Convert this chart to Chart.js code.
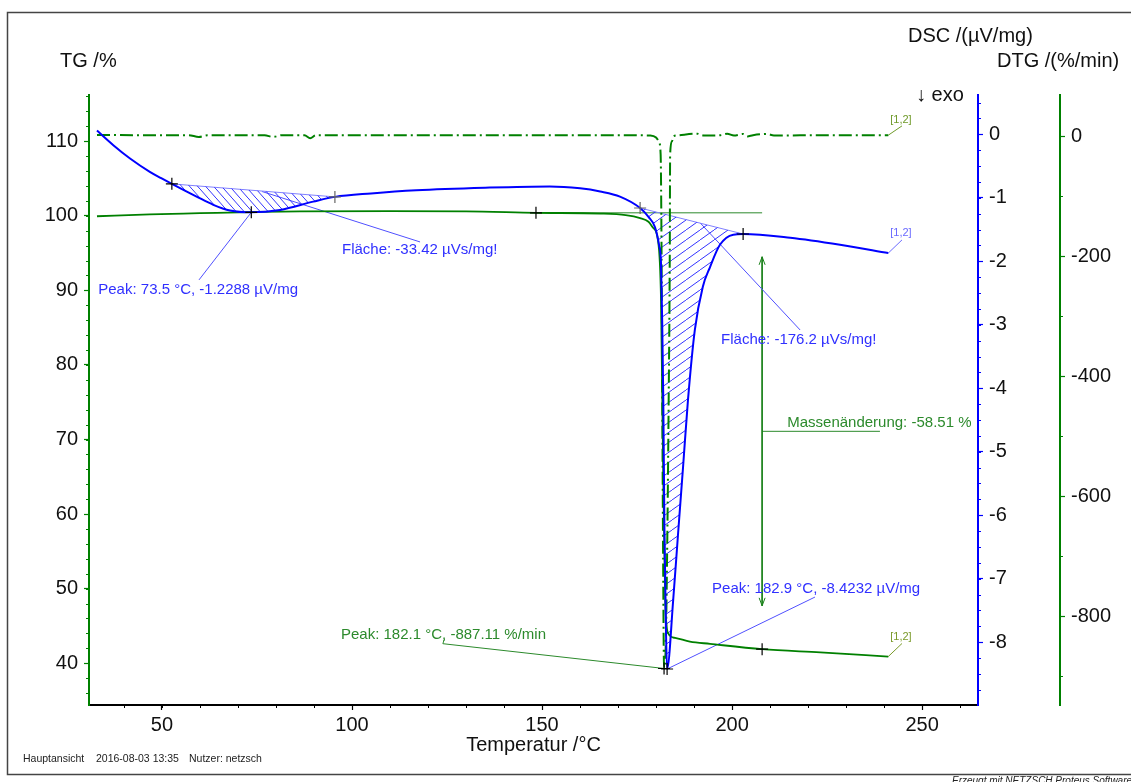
<!DOCTYPE html>
<html>
<head>
<meta charset="utf-8">
<script src="https://cdn.jsdelivr.net/npm/chart.js@4/dist/chart.umd.min.js"></script>
<style>
  html, body { margin: 0; padding: 0; background: #fff; }
  #wrap { width: 1131px; height: 782px; }
</style>
</head>
<body>
<div id="wrap"><canvas id="c" width="1131" height="782"></canvas></div>
<script>
// Temperatur /°C against signal, one [T, value] pair per row
const tgCurve = [
  [32.9, 99.94], [46.8, 100.2], [60, 100.35], [73.2, 100.5], [86.3, 100.6],
  [110, 100.62], [130, 100.6], [148.4, 100.4], [165.3, 100.3], [172, 100.1],
  [175.8, 99.7], [178, 99.2], [179.2, 98.4], [180.5, 96.7], [181.3, 88.7],
  [181.8, 68.6], [182.4, 48.4], [183.2, 44.0], [185, 43.4], [188.9, 42.9],
  [194.2, 42.6], [207.9, 41.89], [223.2, 41.45], [241.1, 40.9]
];

const dscCurve = [
  [32.9, 0.06], [37.2, -0.17], [41.6, -0.38], [46.8, -0.59], [49.8, -0.69], [52.6, -0.78],
  [59.1, -0.98], [63.5, -1.11], [67.9, -1.2], [73.5, -1.2288], [81.1, -1.19],
  [89.8, -1.06], [95.5, -0.985], [105, -0.93], [116.9, -0.88], [135, -0.84],
  [152, -0.82], [160, -0.85], [165.3, -0.9], [170.5, -0.98], [175.8, -1.16],
  [178, -1.3], [179.7, -1.46], [180.8, -1.75], [181.3, -2.03], [181.6, -2.92],
  [181.9, -4.19], [182.2, -6.23], [182.6, -7.81], [182.9, -8.4232],
  [184.5, -7.34], [185.8, -6.28], [187.1, -5.24], [188.4, -4.18], [190.2, -3.08],
  [192.3, -2.4], [194.2, -2.09], [196.8, -1.74], [200.3, -1.58], [202.9, -1.57],
  [215.3, -1.63], [228.4, -1.74], [241.1, -1.87]
];

const dtgCurve = [
  [32.9, 2.5], [45, 2], [57, 2], [59.7, -1], [62, 2], [77, 2], [79.2, -1],
  [81.5, 2], [87.5, 2], [89, -3], [90.5, 2], [110, 2], [130, 2], [150, 2],
  [170, 2], [178.5, 1.5], [180, -2], [180.8, -10], [181.2, -30], [181.4, -150],
  [181.6, -400], [181.85, -700], [182.1, -887.11], [182.5, -860], [182.9, -700],
  [183.3, -450], [183.6, -200], [183.7, -30], [184.2, -8], [184.6, 0],
  [185.5, 1.5], [190.8, 4.5], [192.5, 1.5], [197, 2], [198.7, 4.5], [200.5, 1.5],
  [202.9, 4], [204, 0], [205.5, 2], [209.2, 4], [211, 1.5], [225, 2], [241.1, 2]
];

// evaluation points
const dscPeaks = [[73.5, -1.2288], [182.9, -8.4232]];
const dscArea1 = [[52.6, -0.78], [95.5, -0.985]];
const dscArea2 = [[175.8, -1.16], [202.9, -1.57]];
const dtgPeak = [[182.1, -887.11]];
const massStep = [[148.4, 100.4], [207.9, 41.89]];

// axis ranges and tick labels
const tempRange = [30.8, 264.7];
const tgRange = [34.4, 116.2];
const dscRange = [-8.99, 0.62];
const dtgRange = [-948, 69];
const tempTicks = [50, 100, 150, 200, 250];
const tgTicks = [40, 50, 60, 70, 80, 90, 100, 110];
const dscTicks = [-8, -7, -6, -5, -4, -3, -2, -1, 0];
const dtgTicks = [-800, -600, -400, -200, 0];
const minorSteps = { x: 10, yTG: 2, yDSC: 0.25, yDTG: 100 };

const FONT = "'Liberation Sans', Arial, Helvetica, sans-serif";
const GREEN = '#008000';
const BLUE = '#0000ff';
const axisColors = { x: '#000', yTG: GREEN, yDSC: BLUE, yDTG: GREEN };

const pts = arr => arr.map(([x, y]) => ({ x, y }));
const between = (arr, a, b) => pts(arr.filter(([x]) => x >= a && x <= b));

const canvas = document.getElementById('c');
const ctx0 = canvas.getContext('2d');

function hatch(w, h, rising) {
  const tile = document.createElement('canvas');
  tile.width = w; tile.height = h;
  const g = tile.getContext('2d');
  g.strokeStyle = '#3434ff';
  g.lineWidth = 1;
  g.beginPath();
  if (rising) {
    g.moveTo(-w, 2 * h); g.lineTo(2 * w, -h);
  } else {
    g.moveTo(-w, -h); g.lineTo(2 * w, 2 * h);
  }
  g.stroke();
  return ctx0.createPattern(tile, 'repeat');
}

const labels = [
  { axis: 'yDSC', x: 33.24, y: -2.451, text: 'Peak: 73.5 °C, -1.2288 µV/mg', color: '#3030ff' },
  { axis: 'yDSC', x: 97.37, y: -1.821, text: 'Fläche: -33.42 µVs/mg!', color: '#3030ff' },
  { axis: 'yDSC', x: 197.1, y: -3.239, text: 'Fläche: -176.2 µVs/mg!', color: '#3030ff' },
  { axis: 'yDSC', x: 194.74, y: -7.164, text: 'Peak: 182.9 °C, -8.4232 µV/mg', color: '#3030ff' },
  { axis: 'yDTG', x: 97.1, y: -830.8, text: 'Peak: 182.1 °C, -887.11 %/min', color: '#2c8a2c' },
  { axis: 'yTG', x: 214.5, y: 72.18, text: 'Massenänderung: -58.51 %', color: '#2c8a2c' },
  { axis: 'yDTG', x: 241.6, y: 27, text: '[1,2]', color: '#6f9a2a', size: 11 },
  { axis: 'yDSC', x: 241.6, y: -1.553, text: '[1,2]', color: '#6a6aff', size: 11 },
  { axis: 'yTG', x: 241.6, y: 43.49, text: '[1,2]', color: '#7a9a2a', size: 11 }
];

const leader = (data, axis, color) => ({
  data: pts(data), yAxisID: axis, borderColor: color, borderWidth: 1,
  pointRadius: 0, tension: 0, fill: false
});

const crosses = (data, axis, colors) => ({
  data: pts(data), yAxisID: axis, showLine: false, pointStyle: 'cross',
  pointRadius: 6, pointBorderWidth: 1.2, pointBorderColor: colors
});

const datasets = [
  crosses(dscPeaks.concat(dscArea1, dscArea2), 'yDSC', ['#000', '#000', '#000', '#666', '#666', '#000']),
  crosses(massStep, 'yTG', ['#000', '#000']),
  crosses(dtgPeak, 'yDTG', ['#000']),
  { data: pts(dscCurve), yAxisID: 'yDSC', borderColor: BLUE, borderWidth: 2, cubicInterpolationMode: 'monotone' },
  { data: pts(tgCurve), yAxisID: 'yTG', borderColor: GREEN, borderWidth: 1.8, cubicInterpolationMode: 'monotone' },
  { data: pts(dtgCurve), yAxisID: 'yDTG', borderColor: GREEN, borderWidth: 2, borderDash: [13, 4, 2, 4], cubicInterpolationMode: 'monotone' },
  // hatched peak areas, filled down to their baselines
  { data: between(dscCurve, dscArea1[0][0], dscArea1[1][0]), yAxisID: 'yDSC', borderWidth: 0, borderColor: 'rgba(0,0,0,0)',
    backgroundColor: hatch(8, 9, false), fill: '+1', cubicInterpolationMode: 'monotone' },
  leader(dscArea1, 'yDSC', '#8080ff'),
  { data: between(dscCurve, dscArea2[0][0], dscArea2[1][0]), yAxisID: 'yDSC', borderWidth: 0, borderColor: 'rgba(0,0,0,0)',
    backgroundColor: hatch(14, 10, true), fill: '+1', cubicInterpolationMode: 'monotone' },
  leader(dscArea2, 'yDSC', '#8080ff'),
  // leader lines to the labels
  leader([[73.5, -1.2288], [59.74, -2.293]], 'yDSC', '#5050ff'),
  leader([[76.3, -0.9], [117.9, -1.695]], 'yDSC', '#5050ff'),
  leader([[191.6, -1.395], [217.9, -3.082]], 'yDSC', '#5050ff'),
  leader([[182.9, -8.4232], [221.8, -7.29]], 'yDSC', '#5050ff'),
  leader([[182.1, -887.11], [123.9, -845.8], [124.3, -838]], 'yDTG', '#2c8a2c'),
  leader([[148.4, 100.4], [207.9, 100.4]], 'yTG', '#2c8a2c'),
  leader([[207.9, 94.5], [207.9, 47.7]], 'yTG', '#1a801a'),
  leader([[207.9, 71.1], [238.9, 71.1]], 'yTG', '#2c8a2c'),
  leader([[241.1, 2], [244.7, 17.5]], 'yDTG', '#6f9a2a'),
  leader([[241.1, -1.87], [244.7, -1.663]], 'yDSC', '#6a6aff'),
  leader([[241.1, 40.9], [244.7, 42.65]], 'yTG', '#7a9a2a')
];

const decor = {
  id: 'decor',
  afterDraw(chart) {
    const ctx = chart.ctx;
    const s = chart.scales;
    ctx.save();

    // minor ticks on all four axes
    for (const id in minorSteps) {
      const sc = s[id];
      const step = minorSteps[id];
      ctx.strokeStyle = axisColors[id];
      ctx.lineWidth = 1;
      ctx.beginPath();
      const first = Math.ceil(sc.min / step);
      for (let i = first; i * step <= sc.max; i++) {
        const p = Math.round(sc.getPixelForValue(i * step)) + 0.5;
        if (id === 'x') { ctx.moveTo(p, sc.top); ctx.lineTo(p, sc.top + 3); }
        else if (sc.position === 'left') { ctx.moveTo(sc.right, p); ctx.lineTo(sc.right - 3, p); }
        else { ctx.moveTo(sc.left, p); ctx.lineTo(sc.left + 3, p); }
      }
      ctx.stroke();
    }

    // arrow heads of the mass change marker
    const ax = s.x.getPixelForValue(207.9);
    const aTop = s.yTG.getPixelForValue(94.5);
    const aBot = s.yTG.getPixelForValue(47.7);
    ctx.strokeStyle = '#1a801a';
    ctx.lineWidth = 1;
    ctx.beginPath();
    ctx.moveTo(ax - 3, aTop + 8); ctx.lineTo(ax, aTop); ctx.lineTo(ax + 3, aTop + 8);
    ctx.moveTo(ax - 3, aBot - 8); ctx.lineTo(ax, aBot); ctx.lineTo(ax + 3, aBot - 8);
    ctx.stroke();

    // evaluation labels
    ctx.textBaseline = 'middle';
    ctx.textAlign = 'left';
    for (const l of labels) {
      ctx.font = (l.size || 15) + 'px ' + FONT;
      ctx.fillStyle = l.color;
      ctx.fillText(l.text, s.x.getPixelForValue(l.x), s[l.axis].getPixelForValue(l.y));
    }

    // axis titles
    ctx.fillStyle = '#111';
    ctx.font = '20px ' + FONT;
    ctx.fillText('TG /%', 60, 61);
    ctx.fillText('DSC /(µV/mg)', 908, 36);
    ctx.fillText('DTG /(%/min)', 997, 61);
    ctx.fillText('↓ exo', 916, 95);
    ctx.textAlign = 'center';
    ctx.fillText('Temperatur /°C', (chart.chartArea.left + chart.chartArea.right) / 2, 745);

    // footer
    ctx.textAlign = 'left';
    ctx.font = '10.5px ' + FONT;
    ctx.fillStyle = '#222';
    ctx.fillText('Hauptansicht', 23, 759);
    ctx.fillText('2016-08-03 13:35', 96, 759);
    ctx.fillText('Nutzer: netzsch', 189, 759);
    ctx.font = 'italic 10px ' + FONT;
    ctx.textBaseline = 'top';
    ctx.fillText('Erzeugt mit NETZSCH Proteus Software', 952, 776);

    // page frame
    ctx.strokeStyle = '#444';
    ctx.lineWidth = 1.5;
    ctx.strokeRect(7.5, 12.5, 1140, 762);
    ctx.restore();
  }
};

function axis(id, position, range, tickValues, size) {
  const horizontal = id === 'x';
  return {
    type: 'linear',
    position,
    min: range[0],
    max: range[1],
    afterFit: sc => { if (horizontal) sc.height = size; else sc.width = size; },
    afterBuildTicks: sc => { sc.ticks = tickValues.map(value => ({ value })); },
    border: { color: axisColors[id], width: 2 },
    grid: { drawOnChartArea: false, drawTicks: true, tickLength: 5, tickColor: axisColors[id], tickWidth: 1.2 },
    ticks: {
      padding: horizontal ? 3 : 6, color: '#111', maxRotation: 0, autoSkip: false,
      font: { size: 20, family: FONT }, callback: v => String(v)
    }
  };
}

new Chart(canvas, {
  type: 'line',
  data: { datasets },
  options: {
    responsive: false,
    animation: false,
    layout: { padding: { top: 95, left: 0, right: 0, bottom: 0 } },
    plugins: { legend: { display: false }, tooltip: { enabled: false } },
    elements: { point: { radius: 0 } },
    scales: {
      x: axis('x', 'bottom', tempRange, tempTicks, 77),
      yTG: axis('yTG', 'left', tgRange, tgTicks, 89),
      yDSC: Object.assign(axis('yDSC', 'right', dscRange, dscTicks, 82), { weight: 0 }),
      yDTG: Object.assign(axis('yDTG', 'right', dtgRange, dtgTicks, 71), { weight: 1 })
    }
  },
  plugins: [decor]
});
</script>
</body>
</html>
